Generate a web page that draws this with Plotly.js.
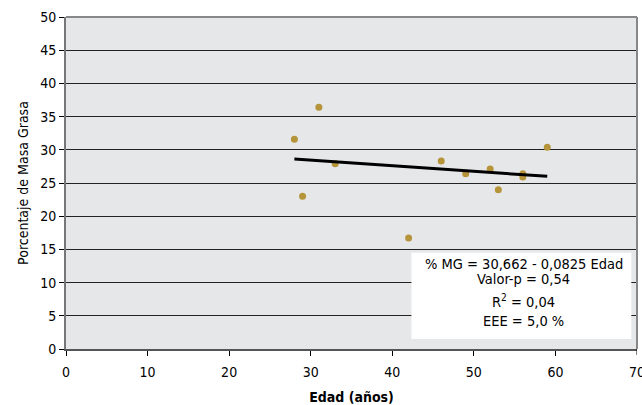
<!DOCTYPE html>
<html>
<head>
<meta charset="utf-8">
<script src="https://cdn.plot.ly/plotly-3.0.1.min.js"></script>
<style>html,body{margin:0;padding:0;background:#fff;}#chart{width:642px;height:405px;}</style>
</head>
<body>
<div id="chart"></div>
<script>
const edad = [28, 31, 29, 33, 42, 46, 49, 52, 53, 56, 56, 59];
const masaGrasa = [31.6, 36.4, 23.0, 27.9, 16.7, 28.3, 26.4, 27.1, 24.0, 26.4, 25.9, 30.4];
const trendX = [28, 59];
const trendY = [28.6, 26.0];
const xTicks = [0, 10, 20, 30, 40, 50, 60];
const xLastTick = 70;
const yTicks = [0, 5, 10, 15, 20, 25, 30, 35, 40, 45, 50];
const boxLines = ["% MG = 30,662 - 0,0825 Edad", "Valor-p = 0,54", "R<sup>2</sup> = 0,04", "EEE = 5,0 %"];

const FONT = '"DejaVu Sans Condensed", "Liberation Sans Narrow", Arial, sans-serif';

const traces = [
  {x: edad, y: masaGrasa, type: 'scatter', mode: 'markers',
   marker: {color: '#b5943a', size: 7}, showlegend: false, hoverinfo: 'skip'},
  {x: trendX, y: trendY, type: 'scatter', mode: 'lines',
   line: {color: '#000', width: 3}, showlegend: false, hoverinfo: 'skip'}
];

const lineY = [0.255, 0.21, 0.145, 0.085];
const annotations = boxLines.map((t, i) => ({
  xref: 'paper', yref: 'paper', x: 0.802, y: lineY[i], text: t, showarrow: false,
  font: {family: FONT, size: 14.5, color: '#000'}, xanchor: 'center', yanchor: 'middle'
}));
annotations.push({
  xref: 'x', yref: 'paper', x: xLastTick, y: 0, yshift: -23, text: String(xLastTick),
  showarrow: false, xanchor: 'center', yanchor: 'middle',
  font: {family: FONT, size: 14, color: '#000'}
});

const layout = {
  width: 642, height: 405,
  margin: {l: 66, r: 5, t: 17, b: 56},
  paper_bgcolor: '#ffffff',
  plot_bgcolor: '#e6e7e9',
  font: {family: FONT, size: 13, color: '#000'},
  xaxis: {
    range: [0, 70], tickvals: xTicks, ticktext: xTicks.map(String),
    showgrid: false, zeroline: false,
    showline: true, linecolor: '#555', linewidth: 2, mirror: false,
    ticks: 'outside', ticklen: 5, tickcolor: '#000', tickwidth: 1,
    ticklabelstandoff: 4,
    tickfont: {family: FONT, size: 14},
    title: {text: '<b>Edad (años)</b>', font: {family: FONT, size: 14}, standoff: 14}
  },
  yaxis: {
    range: [0, 50], tickvals: yTicks, ticktext: yTicks.map(String),
    showgrid: true, gridcolor: '#222', gridwidth: 1, zeroline: false,
    showline: true, linecolor: '#777', linewidth: 2,
    ticks: 'outside', ticklen: 5, tickcolor: '#000', tickwidth: 1,
    tickfont: {family: FONT, size: 14},
    title: {text: 'Porcentaje de Masa Grasa', font: {family: FONT, size: 14}, standoff: 8}
  },
  shapes: [
    {type: 'line', xref: 'paper', yref: 'paper', x0: 0, x1: 1, y0: 1, y1: 1, line: {color: '#888', width: 2}},
    {type: 'line', xref: 'paper', yref: 'paper', x0: 1, x1: 1, y0: 0, y1: 1, line: {color: '#888', width: 2}},
    {type: 'line', xref: 'x', yref: 'paper', x0: xLastTick, x1: xLastTick, y0: 0, y1: -0.018, line: {color: '#000', width: 1}},
    {type: 'rect', xref: 'paper', yref: 'paper', x0: 0.605, x1: 0.99, y0: 0.03, y1: 0.29,
     fillcolor: '#ffffff', line: {width: 0}, layer: 'above'}
  ],
  annotations: annotations
};

Plotly.newPlot('chart', traces, layout, {displayModeBar: false, staticPlot: true});
</script>
</body>
</html>
